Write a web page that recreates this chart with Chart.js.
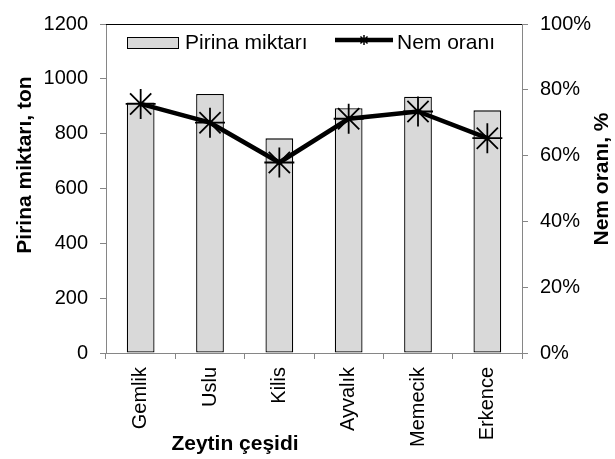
<!DOCTYPE html>
<html><head><meta charset="utf-8">
<script src="https://cdn.jsdelivr.net/npm/chart.js@4"></script>
<style>html,body{margin:0;padding:0;background:#fff}#c{display:block}</style>
</head><body>
<canvas id="c" width="615" height="459"></canvas>
<script>
const categories = ['Gemlik', 'Uslu', 'Kilis', 'Ayvalık', 'Memecik', 'Erkence'];
const pirinaValues = [914, 945, 783, 893, 935, 885];
const nemValues = [75.7, 70.0, 57.9, 71.2, 73.4, 65.3];
const leftTickValues = [0, 200, 400, 600, 800, 1000, 1200];
const rightTickValues = [0, 20, 40, 60, 80, 100];
const seriesLabels = ['Pirina miktarı', 'Nem oranı'];
const leftTitle = 'Pirina miktarı, ton';
const rightTitle = 'Nem oranı, %';
const xTitle = 'Zeytin çeşidi';

const FONT = "'Liberation Sans', Arial, sans-serif";
const AXIS_GRAY = '#868686';
Chart.defaults.font.family = FONT;
Chart.defaults.color = '#000';

const overlay = {
  id: 'overlay',
  afterDraw(chart) {
    const ctx = chart.ctx;
    const a = chart.chartArea;
    ctx.save();
    // top border of plot area
    ctx.strokeStyle = '#000';
    ctx.lineWidth = 1;
    ctx.beginPath();
    const ty = Math.round(a.top) + 0.5;
    ctx.moveTo(a.left, ty); ctx.lineTo(a.right, ty);
    ctx.stroke();

    // legend (inside plot area)
    const ds0 = chart.data.datasets[0], ds1 = chart.data.datasets[1];
    ctx.fillStyle = ds0.backgroundColor;
    ctx.fillRect(127.5, 37.5, 51, 11);
    ctx.strokeStyle = ds0.borderColor;
    ctx.lineWidth = 1;
    ctx.strokeRect(127.5, 37.5, 51, 11);
    ctx.fillStyle = '#000';
    ctx.font = '21px ' + FONT;
    ctx.textBaseline = 'middle';
    ctx.textAlign = 'left';
    ctx.fillText(ds0.label, 185, 43);

    ctx.strokeStyle = ds1.borderColor;
    ctx.lineWidth = 4.5;
    ctx.beginPath();
    ctx.moveTo(335, 40); ctx.lineTo(393, 40);
    ctx.stroke();
    if (Chart.helpers && Chart.helpers.drawPoint) {
      ctx.lineWidth = 1.5;
      Chart.helpers.drawPoint(ctx, {pointStyle: 'star', radius: 5, rotation: 0, borderWidth: 1.5}, 364, 40);
    }
    ctx.fillStyle = '#000';
    ctx.fillText(ds1.label, 397, 43);

    // axis titles
    ctx.font = 'bold 21px ' + FONT;
    ctx.textAlign = 'center';
    ctx.textBaseline = 'alphabetic';
    ctx.fillText(xTitle, 235, 450);

    ctx.textBaseline = 'middle';
    ctx.save();
    ctx.translate(25, 165);
    ctx.rotate(-Math.PI / 2);
    ctx.fillText(leftTitle, 0, 0);
    ctx.restore();

    ctx.save();
    ctx.translate(602, 179);
    ctx.rotate(-Math.PI / 2);
    ctx.fillText(rightTitle, 0, 0);
    ctx.restore();

    ctx.restore();
  }
};

new Chart(document.getElementById('c'), {
  type: 'bar',
  data: {
    labels: categories,
    datasets: [
      {
        type: 'bar',
        label: seriesLabels[0],
        data: pirinaValues,
        yAxisID: 'y',
        backgroundColor: '#d9d9d9',
        borderColor: '#000',
        borderWidth: 1.3,
        borderSkipped: false,
        barPercentage: 1,
        categoryPercentage: 0.4,
        order: 2
      },
      {
        type: 'line',
        label: seriesLabels[1],
        data: nemValues,
        yAxisID: 'y1',
        borderColor: '#000',
        backgroundColor: '#000',
        borderWidth: 4.5,
        tension: 0,
        pointStyle: 'star',
        pointRadius: 15,
        pointHoverRadius: 15,
        pointBorderWidth: 1.8,
        pointBorderColor: '#000',
        order: 1
      }
    ]
  },
  options: {
    responsive: false,
    devicePixelRatio: 1,
    animation: false,
    layout: {padding: {top: 13, left: 0, right: 0, bottom: 0}},
    plugins: {legend: {display: false}, tooltip: {enabled: false}, title: {display: false}},
    scales: {
      x: {
        type: 'category',
        offset: true,
        grid: {display: true, drawOnChartArea: false, drawTicks: true, tickLength: 6, color: AXIS_GRAY, offset: true},
        border: {display: true, color: AXIS_GRAY, width: 1},
        ticks: {font: {size: 20}, color: '#000', minRotation: 90, maxRotation: 90, padding: 8, autoSkip: false},
        afterFit(s) { s.height = 106; }
      },
      y: {
        position: 'left',
        min: 0, max: 1200,
        afterBuildTicks(s) { s.ticks = leftTickValues.map(v => ({value: v})); },
        ticks: {font: {size: 20}, color: '#000', padding: 12, callback: v => String(v)},
        grid: {display: true, drawOnChartArea: false, drawTicks: true, tickLength: 6, color: AXIS_GRAY},
        border: {display: true, color: AXIS_GRAY, width: 1},
        afterFit(s) { s.width = 106; }
      },
      y1: {
        position: 'right',
        min: 0, max: 100,
        afterBuildTicks(s) { s.ticks = rightTickValues.map(v => ({value: v})); },
        ticks: {font: {size: 20}, color: '#000', padding: 12, callback: v => v + '%'},
        grid: {display: true, drawOnChartArea: false, drawTicks: true, tickLength: 6, color: AXIS_GRAY},
        border: {display: true, color: AXIS_GRAY, width: 1},
        afterFit(s) { s.width = 93; }
      }
    }
  },
  plugins: [overlay]
});
</script>
</body></html>
